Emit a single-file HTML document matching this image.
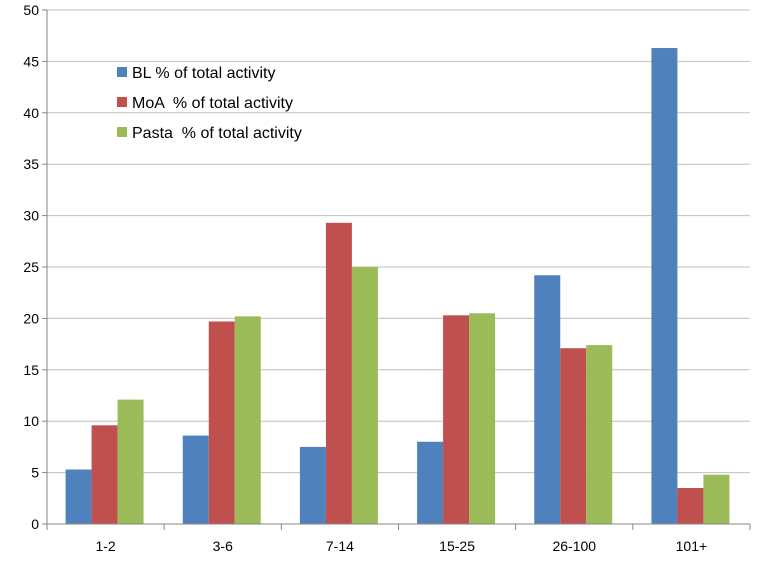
<!DOCTYPE html>
<html><head><meta charset="utf-8"><style>
html,body{margin:0;padding:0;background:#fff;}
svg{display:block;font-family:"Liberation Sans",Arial,sans-serif;}
</style></head><body>
<svg id="chart" width="757" height="564"></svg>
<script>
const categories=["1-2","3-6","7-14","15-25","26-100","101+"];
const blValues=[5.3,8.6,7.5,8.0,24.2,46.3];
const moaValues=[9.6,19.7,29.3,20.3,17.1,3.5];
const pastaValues=[12.1,20.2,25.0,20.5,17.4,4.8];
const seriesNames=["BL % of total activity","MoA \u00a0% of total activity","Pasta \u00a0% of total activity"];
const yTicks=[0,5,10,15,20,25,30,35,40,45,50];

const svg=document.getElementById('chart');
const NS="http://www.w3.org/2000/svg";
const L=47,R=750,T=10,B=524,yMax=50;
const y=v=>B-(v/yMax)*(B-T);
const band=(R-L)/categories.length;
const x=i=>L+i*band;
const colors=["#4F81BD","#C0504D","#9BBB59"];
const series=[blValues,moaValues,pastaValues];
const bw=26;
function mk(tag,attrs,parent){const e=document.createElementNS(NS,tag);for(const k in attrs)e.setAttribute(k,attrs[k]);(parent||svg).appendChild(e);return e;}

yTicks.forEach(t=>{
  if(t>0){const g=mk('line',{x1:L,x2:R,y1:y(t),y2:y(t),stroke:'#BFBFBF','stroke-width':1});
  
  }
  const tk=mk('line',{x1:L-5,x2:L,y1:y(t),y2:y(t),stroke:'#868686'});
  
  
  const lb=mk('text',{x:L-8,y:y(t)+5,'text-anchor':'end','font-size':14,fill:'#000'});
  lb.textContent=t;
  
  
});

categories.forEach((c,i)=>{
  const cx=x(i)+band/2;
  series.forEach((s,j)=>{
    const r=mk('rect',{x:cx-1.5*bw+j*bw-1,y:y(s[i]),width:bw,height:B-y(s[i]),fill:colors[j]});
    
    
  });
  const lb=mk('text',{x:cx,y:B+27,'text-anchor':'middle','font-size':14,fill:'#000'});
  lb.textContent=c;
  
  
});
for(let i=0;i<=categories.length;i++){
  const tk=mk('line',{x1:x(i),x2:x(i),y1:B,y2:B+6,stroke:'#868686'});
  
  
}
const ya=mk('line',{x1:L,x2:L,y1:T,y2:B,stroke:'#868686'});


const xa=mk('line',{x1:L,x2:R,y1:B,y2:B,stroke:'#868686'});



seriesNames.forEach((n,j)=>{
  const ly=73+j*30;
  const sq=mk('rect',{x:117,y:ly-6,width:10,height:10,fill:colors[j]});
  
  
  const t=mk('text',{x:132,y:ly+5,'font-size':16,fill:'#000'});
  t.textContent=n;
  
  
});
</script>
</body></html>
